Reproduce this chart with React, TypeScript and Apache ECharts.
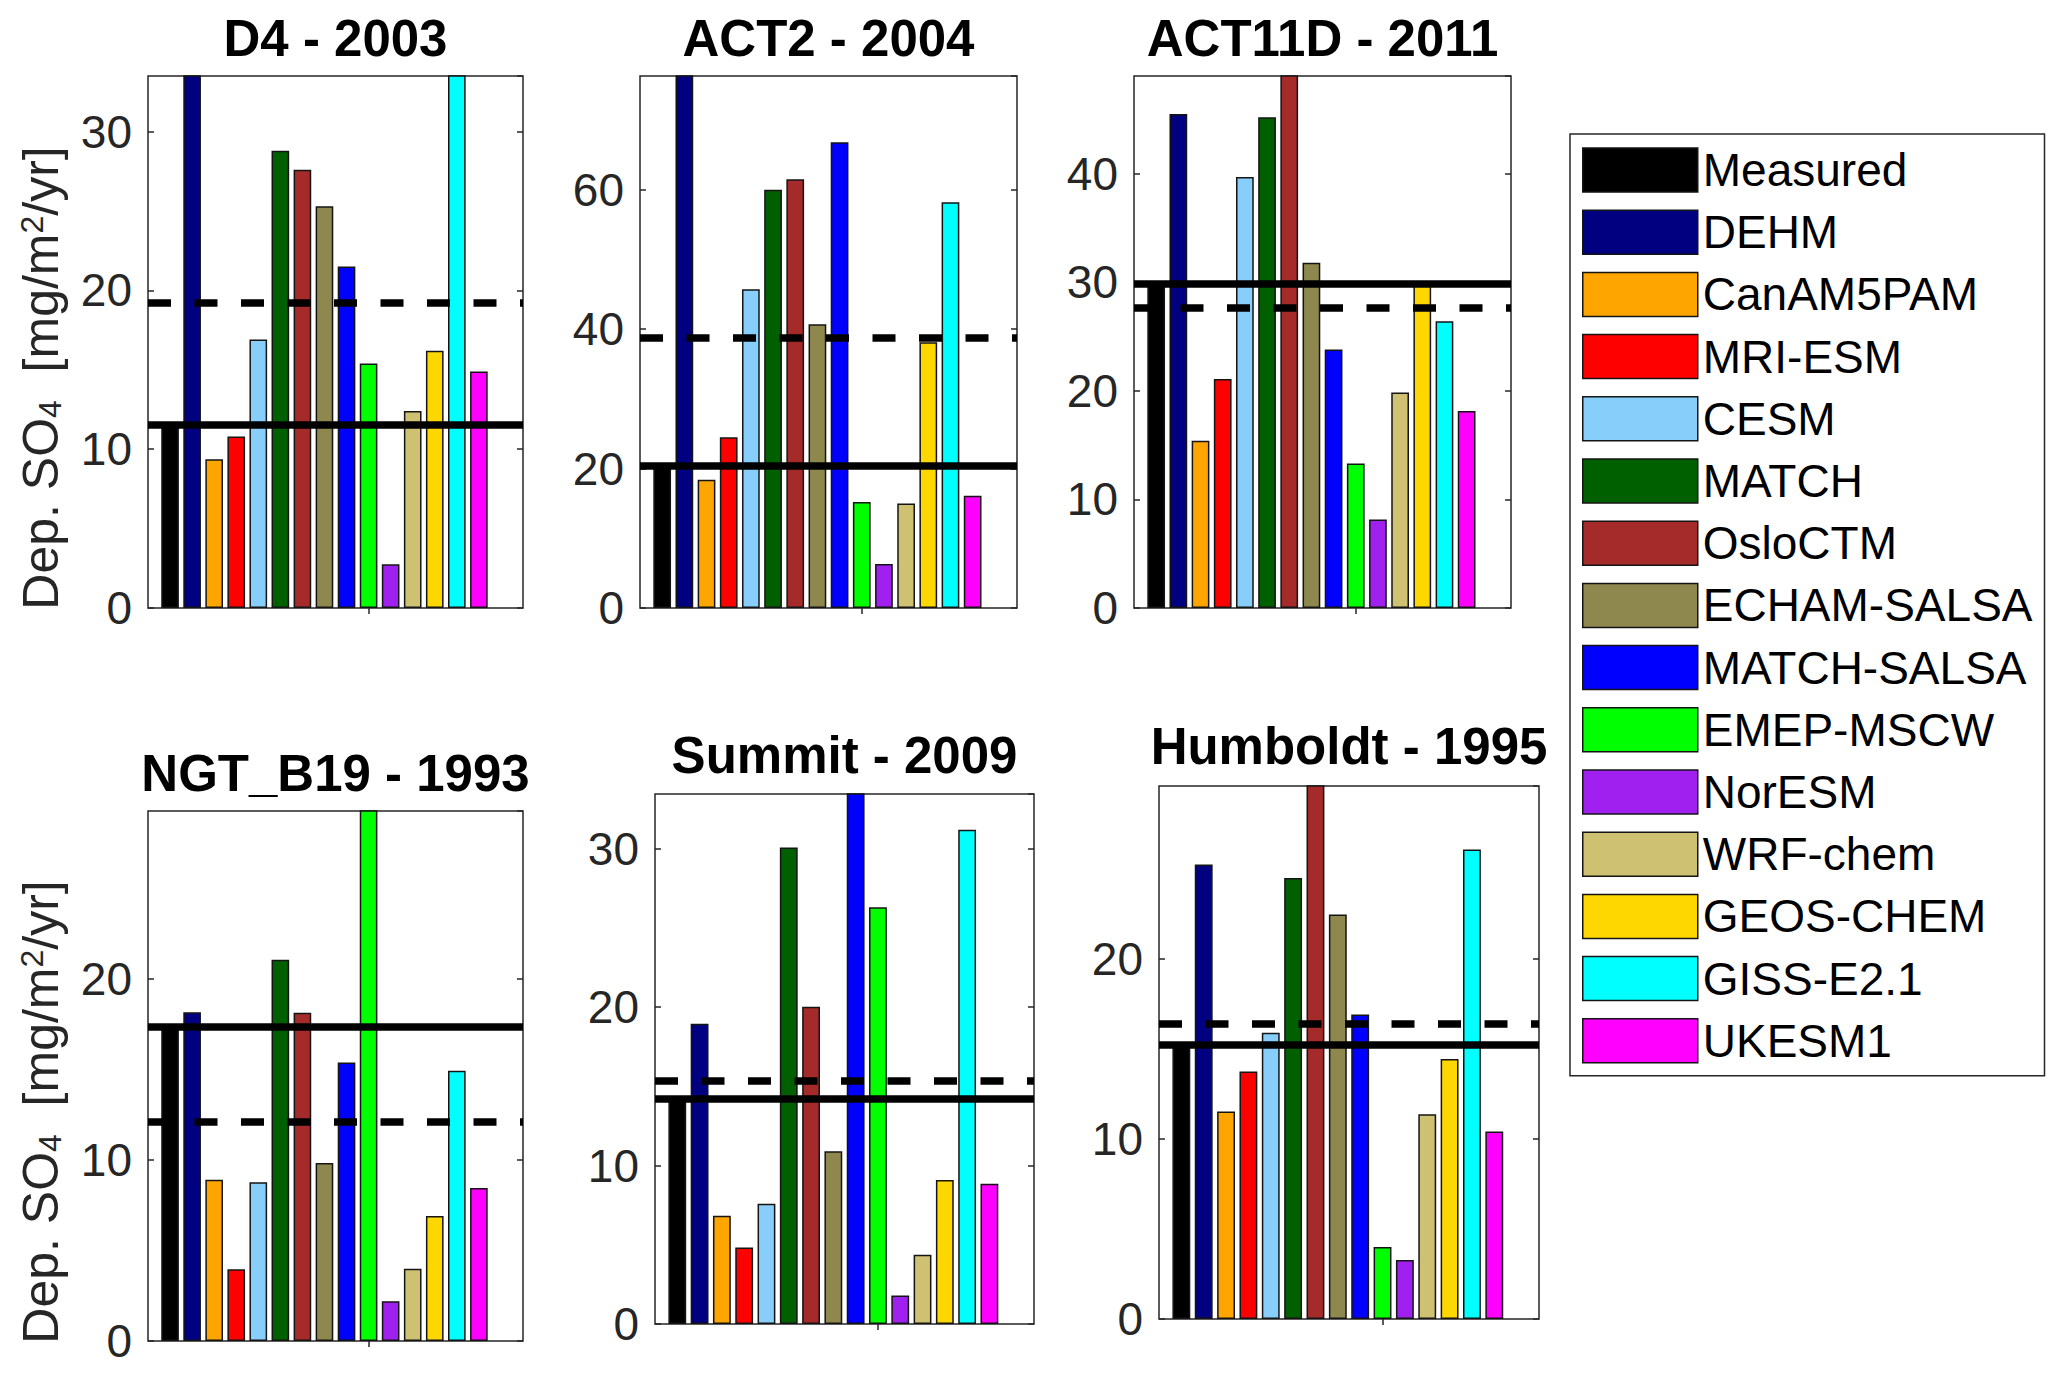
import { useEffect, useRef } from "react";
import * as echarts from "echarts";

const FONT = "'Liberation Sans', Arial, Helvetica, sans-serif";
const AXIS_COLOR = "#262626";

const MODELS = [
    "Measured", "DEHM", "CanAM5PAM", "MRI-ESM", "CESM", "MATCH", "OsloCTM", "ECHAM-SALSA",
    "MATCH-SALSA", "EMEP-MSCW", "NorESM", "WRF-chem", "GEOS-CHEM", "GISS-E2.1", "UKESM1",
];
const COLORS = [
    "#000000", "#000080", "#FFA500", "#FF0000", "#87CEFA", "#006000", "#A52A2A", "#8E884E",
    "#0000FF", "#00FF00", "#A020F0", "#CFC172", "#FFD700", "#00FFFF", "#FF00FF",
];

const SITES = ["D4 - 2003", "ACT2 - 2004", "ACT11D - 2011", "NGT_B19 - 1993", "Summit - 2009", "Humboldt - 1995"];

// deposition values per site, same order as MODELS (mg/m2/yr)
const D4_2003 = [11.55, 33.6, 9.36, 10.8, 16.9, 28.8, 27.6, 25.3, 21.5, 15.4, 2.75, 12.4, 16.2, 33.6, 14.9];
const ACT2_2004 = [20.3, 76.6, 18.4, 24.5, 45.7, 60.0, 61.5, 40.7, 66.8, 15.2, 6.3, 15.0, 38.1, 58.2, 16.1];
const ACT11D_2011 = [29.9, 45.5, 15.4, 21.1, 39.7, 45.2, 49.4, 31.8, 23.8, 13.3, 8.15, 19.85, 29.8, 26.4, 18.15];
const NGT_B19_1993 = [17.33, 18.15, 8.9, 3.96, 8.76, 21.04, 18.12, 9.83, 15.37, 29.3, 2.2, 3.99, 6.9, 14.92, 8.44];
const SUMMIT_2009 = [14.22, 18.95, 6.83, 4.83, 7.59, 30.06, 20.01, 10.9, 33.6, 26.29, 1.8, 4.37, 9.09, 31.18, 8.85];
const HUMBOLDT_1995 = [15.22, 25.23, 11.52, 13.73, 15.89, 24.47, 29.7, 22.45, 16.9, 3.99, 3.27, 11.36, 14.43, 26.05, 10.4];
const SITE_VALUES = [D4_2003, ACT2_2004, ACT11D_2011, NGT_B19_1993, SUMMIT_2009, HUMBOLDT_1995];

const MEASURED_LINE = [11.55, 20.35, 29.9, 17.33, 14.22, 15.22];
const MODEL_MEAN_LINE = [19.2, 38.8, 27.7, 12.12, 15.32, 16.4];

const Y_MAX = [33.5, 76.3, 49, 29.25, 33.44, 29.58];
const Y_STEP = [10, 20, 10, 10, 10, 10];

// x slots 0..17, bars sit on 1..15
const SLOTS = Array.from({ length: 18 }, (_, i) => String(i));

const PANELS = [
    { left: 148, top: 76, width: 375, height: 532, titleY: 38, ylabel: true },
    { left: 640, top: 76, width: 377, height: 532, titleY: 38, ylabel: false },
    { left: 1134, top: 76, width: 377, height: 532, titleY: 38, ylabel: false },
    { left: 148, top: 811, width: 375, height: 530, titleY: 773, ylabel: true },
    { left: 655, top: 794, width: 379, height: 530, titleY: 755, ylabel: false },
    { left: 1159, top: 786, width: 380, height: 533, titleY: 746, ylabel: false },
];

function buildOption() {
    const grid = PANELS.map((p) => ({
        left: p.left,
        top: p.top,
        width: p.width,
        height: p.height,
        show: true,
        borderColor: AXIS_COLOR,
        borderWidth: 1.5,
        backgroundColor: "#fff",
    }));

    const xAxis: any[] = [];
    const yAxis: any[] = [];
    PANELS.forEach((_, g) => {
        ["bottom", "top"].forEach((pos) => {
            xAxis.push({
                type: "category",
                gridIndex: g,
                position: pos,
                data: SLOTS,
                boundaryGap: false,
                axisLine: { show: false },
                axisLabel: { show: false },
                splitLine: { show: false },
                axisTick: {
                    show: true,
                    inside: true,
                    length: 6,
                    interval: (i: number) => i === 10,
                    lineStyle: { color: AXIS_COLOR, width: 1.5 },
                },
            });
        });
        ["left", "right"].forEach((pos) => {
            yAxis.push({
                type: "value",
                gridIndex: g,
                position: pos,
                min: 0,
                max: Y_MAX[g],
                interval: Y_STEP[g],
                axisLine: { show: false },
                splitLine: { show: false },
                axisTick: { show: true, inside: true, length: 6, lineStyle: { color: AXIS_COLOR, width: 1.5 } },
                axisLabel: {
                    show: pos === "left",
                    fontSize: 46,
                    fontFamily: FONT,
                    color: AXIS_COLOR,
                    margin: 16,
                    showMaxLabel: false,
                },
            });
        });
    });

    const series: any[] = [];
    SITE_VALUES.forEach((vals, g) => {
        MODELS.forEach((name, m) => {
            const s: any = {
                type: "bar",
                name,
                xAxisIndex: g * 2,
                yAxisIndex: g * 2,
                stack: "site" + g,
                barWidth: "80%",
                clip: true,
                silent: true,
                data: SLOTS.map((_, i) => (i === m + 1 ? vals[m] : "-")),
                itemStyle: { color: COLORS[m], borderColor: "#141414", borderWidth: 1.5 },
                emphasis: { disabled: true },
            };
            if (m === 0) {
                s.markLine = {
                    silent: true,
                    symbol: ["none", "none"],
                    label: { show: false },
                    emphasis: { disabled: true },
                    z: 10,
                    data: [
                        { yAxis: MEASURED_LINE[g], lineStyle: { color: "#000", width: 7.5, type: "solid" } },
                        { yAxis: MODEL_MEAN_LINE[g], lineStyle: { color: "#000", width: 7.5, type: [23, 23.5] } },
                    ],
                };
            }
            series.push(s);
        });
    });

    const graphic: any[] = [];
    PANELS.forEach((p, g) => {
        graphic.push({
            type: "text",
            x: p.left + p.width / 2,
            y: p.titleY,
            style: {
                text: SITES[g],
                fontSize: 51,
                fontWeight: "bold",
                fontFamily: FONT,
                fill: "#000",
                align: "center",
                verticalAlign: "middle",
            },
        });
        if (p.ylabel) {
            graphic.push({
                type: "text",
                x: 41,
                y: p.top + p.height / 2 + 36,
                rotation: Math.PI / 2,
                style: {
                    text: "Dep. SO{sub|4}  [mg/m{sup|2}/yr]",
                    fontSize: 50,
                    fontFamily: FONT,
                    fill: AXIS_COLOR,
                    align: "center",
                    verticalAlign: "middle",
                    rich: {
                        sub: { fontSize: 32, fontFamily: FONT, fill: AXIS_COLOR, verticalAlign: "bottom" },
                        sup: { fontSize: 32, fontFamily: FONT, fill: AXIS_COLOR, verticalAlign: "top" },
                    },
                },
            });
        }
    });

    return {
        animation: false,
        backgroundColor: "#fff",
        textStyle: { fontFamily: FONT },
        grid,
        xAxis,
        yAxis,
        series,
        graphic,
        legend: {
            orient: "vertical",
            left: 1570,
            top: 134,
            data: MODELS,
            icon: "rect",
            selectedMode: false,
            itemWidth: 115,
            itemHeight: 44,
            itemGap: 16.2,
            itemTextGap: 11,
            padding: [13, 12, 12, 12],
            borderColor: AXIS_COLOR,
            borderWidth: 1.5,
            backgroundColor: "#fff",
            itemStyle: { borderWidth: 1.5, borderColor: "#141414" },
            textStyle: { fontSize: 46, color: "#000", fontFamily: FONT, lineHeight: 44 },
        },
    };
}

export default function App() {
    const chartRef = useRef<HTMLDivElement | null>(null);

    useEffect(() => {
        if (!chartRef.current) return;
        const chart = echarts.init(chartRef.current, undefined, { renderer: "svg" });
        chart.setOption(buildOption() as any);
        return () => chart.dispose();
    }, []);

    return (
        <div
            ref={chartRef}
            style={{ position: "fixed", left: 0, top: 0, width: 2067, height: 1375, background: "#fff" }}
        />
    );
}
